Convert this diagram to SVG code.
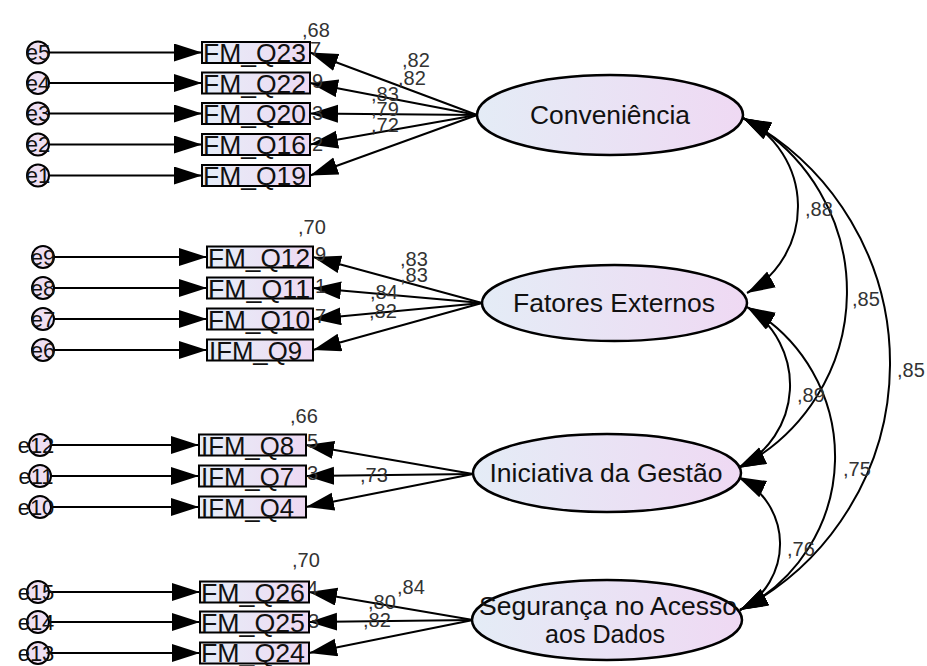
<svg xmlns="http://www.w3.org/2000/svg" width="927" height="666" viewBox="0 0 927 666">
  <defs>
    <linearGradient id="gBox" x1="0" y1="0" x2="1" y2="0">
      <stop offset="0" stop-color="#e6eef8"/>
      <stop offset="1" stop-color="#eed9f2"/>
    </linearGradient>
    <linearGradient id="gLat" x1="0" y1="0" x2="1" y2="0">
      <stop offset="0" stop-color="#e4ecf6"/>
      <stop offset="1" stop-color="#efd9f3"/>
    </linearGradient>
    <marker id="ah" markerUnits="userSpaceOnUse" markerWidth="30" markerHeight="20" refX="28" refY="9" orient="auto-start-reverse">
      <path d="M0,0 L28,9 L0,18 z" fill="#000"/>
    </marker>
    <style>
      .ln { stroke:#000; stroke-width:2; fill:none; marker-end:url(#ah); }
      .cov { stroke:#000; stroke-width:2; fill:none; marker-start:url(#ah); marker-end:url(#ah); }
      .box { fill:url(#gBox); stroke:#000; stroke-width:2; }
      .err { fill:#eedff2; stroke:#000; stroke-width:2; }
      .lat { fill:url(#gLat); stroke:#000; stroke-width:2.5; }
      text { font-family:"Liberation Sans", Arial, sans-serif; }
      .tb { font-size:25px; fill:#111; }
      .te { font-size:22px; fill:#111; text-anchor:middle; }
      .tn { font-size:20px; fill:#333; }
      .tl { font-size:25px; fill:#111; text-anchor:middle; }
    </style>
  </defs>

  <!-- paths: error terms, loadings, covariances -->
  <g id="connectors">
    <!-- error terms -> indicators -->
    <path class="ln" d="M49,52.5 H202"/>
    <path class="ln" d="M49,83 H202"/>
    <path class="ln" d="M49,113.5 H202"/>
    <path class="ln" d="M49,144.5 H202"/>
    <path class="ln" d="M49,175.5 H202"/>
    <path class="ln" d="M54,257 H207"/>
    <path class="ln" d="M54,288 H207"/>
    <path class="ln" d="M54,319 H207"/>
    <path class="ln" d="M54,350 H207"/>
    <path class="ln" d="M51,445 H199"/>
    <path class="ln" d="M51,476 H199"/>
    <path class="ln" d="M51,507 H199"/>
    <path class="ln" d="M49,592 H200"/>
    <path class="ln" d="M49,622 H200"/>
    <path class="ln" d="M49,653 H200"/>
    <!-- latent -> indicators -->
    <path class="ln" d="M477,115 L310,52.5"/>
    <path class="ln" d="M477,115 L310,83"/>
    <path class="ln" d="M477,115 L310,113.5"/>
    <path class="ln" d="M477,115 L310,144.5"/>
    <path class="ln" d="M477,115 L310,175.5"/>
    <path class="ln" d="M482,303 L313,257"/>
    <path class="ln" d="M482,303 L313,288"/>
    <path class="ln" d="M482,303 L313,319"/>
    <path class="ln" d="M482,303 L313,350"/>
    <path class="ln" d="M473,474 L306,445"/>
    <path class="ln" d="M473,474 L306,476"/>
    <path class="ln" d="M473,474 L306,507"/>
    <path class="ln" d="M473,620 L309,592"/>
    <path class="ln" d="M473,620 L309,622"/>
    <path class="ln" d="M473,620 L309,653"/>
    <!-- covariances between latent factors -->
    <path class="cov" d="M743,118 A98.8,98.8 0 0 1 747,293"/>
    <path class="cov" d="M743,118 A197.1,197.1 0 0 1 738,468"/>
    <path class="cov" d="M743,118 A278,278 0 0 1 740,610"/>
    <path class="cov" d="M747,307 A92.2,92.2 0 0 1 738,468"/>
    <path class="cov" d="M747,307 A171.2,171.2 0 0 1 740,610"/>
    <path class="cov" d="M738,477 A74.4,74.4 0 0 1 740,610"/>
    <!-- path coefficients -->
    <text class="tn" x="402" y="67">,82</text>
    <text class="tn" x="398" y="85">,82</text>
    <text class="tn" x="371" y="101">,83</text>
    <text class="tn" x="371" y="116">,79</text>
    <text class="tn" x="371" y="132">,72</text>
    <text class="tn" x="400" y="266">,83</text>
    <text class="tn" x="400" y="282">,83</text>
    <text class="tn" x="370" y="299">,84</text>
    <text class="tn" x="369" y="318">,82</text>
    <text class="tn" x="360" y="482">,73</text>
    <text class="tn" x="397" y="594">,84</text>
    <text class="tn" x="368" y="609">,80</text>
    <text class="tn" x="363" y="627">,82</text>
    <text class="tn" x="805" y="216">,88</text>
    <text class="tn" x="852" y="306">,85</text>
    <text class="tn" x="897" y="377">,85</text>
    <text class="tn" x="797" y="402">,89</text>
    <text class="tn" x="843" y="476">,75</text>
    <text class="tn" x="787" y="556">,76</text>
  </g>

  <!-- latent factors -->
  <g id="conveniencia">
    <ellipse class="lat" cx="610" cy="115" rx="133" ry="40"/>
    <text class="tl" x="610" y="124" textLength="160" lengthAdjust="spacingAndGlyphs">Conveniência</text>
  </g>
  <g id="fatores-externos">
    <ellipse class="lat" cx="614.5" cy="303" rx="132.5" ry="38"/>
    <text class="tl" x="614" y="312" textLength="202" lengthAdjust="spacingAndGlyphs">Fatores Externos</text>
  </g>
  <g id="iniciativa-gestao">
    <ellipse class="lat" cx="607" cy="473" rx="134" ry="39"/>
    <text class="tl" x="606" y="482" textLength="233" lengthAdjust="spacingAndGlyphs">Iniciativa da Gestão</text>
  </g>
  <g id="seguranca-acesso">
    <ellipse class="lat" cx="607" cy="620" rx="135" ry="40"/>
    <text class="tl" x="608" y="615" textLength="258" lengthAdjust="spacingAndGlyphs">Segurança no Acesso</text>
    <text class="tl" x="605" y="643" textLength="120" lengthAdjust="spacingAndGlyphs">aos Dados</text>
  </g>

  <!-- Conveniência indicators -->
  <g id="fm-q23">
    <text class="tn" x="302" y="37">,68</text>
    <text class="tn" x="310" y="56">7</text>
    <rect class="box" x="202" y="42" width="108" height="21"/>
    <text class="tb" x="203" y="62" textLength="103" lengthAdjust="spacingAndGlyphs">FM_Q23</text>
  </g>
  <g id="fm-q22">
    <text class="tn" x="312" y="88">9</text>
    <rect class="box" x="202" y="72.5" width="108" height="21"/>
    <text class="tb" x="203" y="92.5" textLength="103" lengthAdjust="spacingAndGlyphs">FM_Q22</text>
  </g>
  <g id="fm-q20">
    <text class="tn" x="312" y="120">3</text>
    <rect class="box" x="202" y="103" width="108" height="21"/>
    <text class="tb" x="203" y="123" textLength="103" lengthAdjust="spacingAndGlyphs">FM_Q20</text>
  </g>
  <g id="fm-q16">
    <text class="tn" x="312" y="151">2</text>
    <rect class="box" x="202" y="134" width="108" height="21"/>
    <text class="tb" x="203" y="154" textLength="103" lengthAdjust="spacingAndGlyphs">FM_Q16</text>
  </g>
  <g id="fm-q19">
    <rect class="box" x="202" y="165" width="108" height="21"/>
    <text class="tb" x="203" y="185" textLength="103" lengthAdjust="spacingAndGlyphs">FM_Q19</text>
  </g>

  <!-- Fatores Externos indicators -->
  <g id="fm-q12">
    <text class="tn" x="298" y="234">,70</text>
    <text class="tn" x="315" y="261">9</text>
    <rect class="box" x="207" y="246.5" width="106" height="21"/>
    <text class="tb" x="208" y="266.5" textLength="102" lengthAdjust="spacingAndGlyphs">FM_Q12</text>
  </g>
  <g id="fm-q11">
    <text class="tn" x="315" y="293">1</text>
    <rect class="box" x="207" y="277.5" width="106" height="21"/>
    <text class="tb" x="208" y="297.5" textLength="102" lengthAdjust="spacingAndGlyphs">FM_Q11</text>
  </g>
  <g id="fm-q10">
    <text class="tn" x="315" y="323">7</text>
    <rect class="box" x="207" y="308.5" width="106" height="21"/>
    <text class="tb" x="208" y="328.5" textLength="102" lengthAdjust="spacingAndGlyphs">FM_Q10</text>
  </g>
  <g id="ifm-q9">
    <rect class="box" x="207" y="339.5" width="106" height="21"/>
    <text class="tb" x="209" y="359.5" textLength="93" lengthAdjust="spacingAndGlyphs">IFM_Q9</text>
  </g>

  <!-- Iniciativa da Gestão indicators -->
  <g id="ifm-q8">
    <text class="tn" x="290" y="423">,66</text>
    <text class="tn" x="307" y="448">5</text>
    <rect class="box" x="199" y="434.5" width="107" height="21"/>
    <text class="tb" x="201" y="454.5" textLength="93" lengthAdjust="spacingAndGlyphs">IFM_Q8</text>
  </g>
  <g id="ifm-q7">
    <text class="tn" x="307" y="480">3</text>
    <rect class="box" x="199" y="465.5" width="107" height="21"/>
    <text class="tb" x="201" y="485.5" textLength="93" lengthAdjust="spacingAndGlyphs">IFM_Q7</text>
  </g>
  <g id="ifm-q4">
    <rect class="box" x="199" y="496.5" width="107" height="21"/>
    <text class="tb" x="201" y="516.5" textLength="93" lengthAdjust="spacingAndGlyphs">IFM_Q4</text>
  </g>

  <!-- Segurança no Acesso aos Dados indicators -->
  <g id="fm-q26">
    <text class="tn" x="292" y="567">,70</text>
    <text class="tn" x="307" y="595">4</text>
    <rect class="box" x="200" y="581.5" width="109" height="21"/>
    <text class="tb" x="201" y="601.5" textLength="104" lengthAdjust="spacingAndGlyphs">FM_Q26</text>
  </g>
  <g id="fm-q25">
    <text class="tn" x="308" y="628">3</text>
    <rect class="box" x="200" y="611.5" width="109" height="21"/>
    <text class="tb" x="201" y="631.5" textLength="104" lengthAdjust="spacingAndGlyphs">FM_Q25</text>
  </g>
  <g id="fm-q24">
    <rect class="box" x="200" y="642.5" width="109" height="21"/>
    <text class="tb" x="201" y="662" textLength="104" lengthAdjust="spacingAndGlyphs">FM_Q24</text>
  </g>

  <!-- error terms -->
  <g id="e5"><circle class="err" cx="38" cy="52.5" r="11"/><text class="te" x="38" y="60">e5</text></g>
  <g id="e4"><circle class="err" cx="38" cy="83" r="11"/><text class="te" x="38" y="90.5">e4</text></g>
  <g id="e3"><circle class="err" cx="38" cy="113.5" r="11"/><text class="te" x="38" y="121">e3</text></g>
  <g id="e2"><circle class="err" cx="38" cy="144.5" r="11"/><text class="te" x="38" y="152">e2</text></g>
  <g id="e1"><circle class="err" cx="38" cy="175.5" r="11"/><text class="te" x="38" y="183">e1</text></g>
  <g id="e9"><circle class="err" cx="43" cy="257" r="11"/><text class="te" x="43" y="264.5">e9</text></g>
  <g id="e8"><circle class="err" cx="43" cy="288" r="11"/><text class="te" x="43" y="295.5">e8</text></g>
  <g id="e7"><circle class="err" cx="43" cy="319" r="11"/><text class="te" x="43" y="326.5">e7</text></g>
  <g id="e6"><circle class="err" cx="43" cy="350" r="11"/><text class="te" x="43" y="357.5">e6</text></g>
  <g id="e12"><circle class="err" cx="40" cy="445" r="11"/><text class="te" x="36" y="452.5">e12</text></g>
  <g id="e11"><circle class="err" cx="40" cy="476" r="11"/><text class="te" x="36" y="483.5">e11</text></g>
  <g id="e10"><circle class="err" cx="40" cy="507" r="11"/><text class="te" x="36" y="514.5">e10</text></g>
  <g id="e15"><circle class="err" cx="38" cy="592" r="11"/><text class="te" x="36" y="599.5">e15</text></g>
  <g id="e14"><circle class="err" cx="38" cy="622" r="11"/><text class="te" x="36" y="629.5">e14</text></g>
  <g id="e13"><circle class="err" cx="38" cy="653" r="11"/><text class="te" x="36" y="660.5">e13</text></g>
</svg>
